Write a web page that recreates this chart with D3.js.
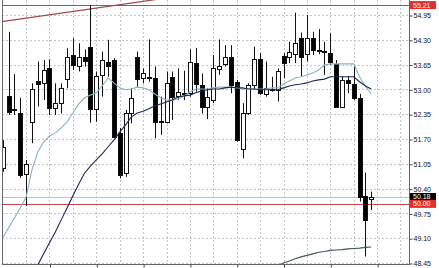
<!DOCTYPE html>
<html>
<head>
<meta charset="utf-8">
<script src="https://cdnjs.cloudflare.com/ajax/libs/d3/7.8.5/d3.min.js"></script>
<style>
  body { margin: 0; background: #fff; }
  svg { display: block; font-family: "Liberation Sans", Arial, sans-serif; }
</style>
</head>
<body>
<div id="chart"></div>
<script>
// candles (bar 0 = leftmost, partly cut)
const opens = [50.93, 52.84, 52.49, 52.38, 50.78, 52.15, 53.23, 53.16, 53.55, 52.51, 52.64, 53.27, 53.90, 53.62, 53.86, 54.12,
  52.48, 53.38, 53.71, 53.77, 51.86, 50.80, 52.37, 53.84, 53.29, 53.33, 53.29, 52.18, 52.15, 53.33, 52.84, 52.90,
  52.90, 53.70, 53.12, 52.55, 52.72, 53.53, 53.67, 53.86, 53.20, 51.43, 52.37, 53.12, 53.79, 52.88, 53.01, 52.99,
  53.88, 53.86, 53.93, 54.36, 53.93, 54.34, 54.03, 54.00, 53.96, 53.67, 52.55, 53.25, 53.14, 52.77, 50.21, 50.13]
const highs = [51.67, 54.51, 53.40, 52.78, 51.15, 53.16, 53.73, 53.77, 53.79, 53.16, 53.16, 54.08, 54.34, 54.21, 54.05, 55.21,
  53.47, 53.99, 54.30, 53.82, 51.99, 52.46, 53.03, 53.99, 53.55, 54.31, 53.60, 52.81, 53.47, 53.47, 53.55, 53.49,
  54.05, 54.08, 53.42, 53.03, 53.90, 54.31, 54.16, 54.16, 53.25, 52.64, 53.16, 54.12, 53.95, 53.73, 53.33, 53.55,
  53.95, 54.25, 55.01, 54.49, 54.95, 54.51, 54.58, 54.25, 54.47, 53.77, 53.35, 53.35, 53.64, 52.88, 50.82, 50.32]
const lows = [50.84, 52.33, 52.33, 50.68, 49.94, 51.59, 52.55, 52.72, 52.33, 52.33, 52.37, 53.03, 53.51, 53.47, 53.60, 52.13,
  52.15, 52.81, 53.33, 51.74, 50.67, 50.71, 52.11, 53.07, 53.16, 53.20, 51.72, 51.81, 52.11, 52.20, 52.72, 52.72,
  52.81, 52.94, 52.37, 52.22, 52.64, 53.38, 53.60, 52.90, 51.63, 51.19, 52.33, 52.99, 52.85, 52.81, 52.94, 52.68,
  53.29, 53.69, 53.69, 53.35, 53.73, 53.90, 53.92, 53.38, 53.64, 52.54, 52.53, 52.90, 52.72, 50.06, 48.62, 49.84]
const closes = [51.50, 52.42, 52.47, 50.76, 51.05, 53.00, 53.13, 53.51, 52.51, 52.64, 53.03, 53.86, 53.64, 53.84, 53.75, 52.48,
  53.35, 53.77, 53.61, 51.76, 50.76, 52.37, 52.77, 53.27, 53.44, 53.29, 52.15, 52.14, 53.16, 52.81, 52.93, 52.89,
  53.71, 53.14, 52.55, 52.81, 53.55, 53.61, 53.84, 53.12, 51.67, 52.37, 53.12, 53.79, 52.90, 53.03, 52.99, 53.47,
  53.70, 53.99, 54.22, 53.86, 54.36, 54.03, 54.02, 53.99, 53.73, 52.55, 53.25, 53.16, 52.77, 50.19, 49.58, 50.18]

// moving averages
const maFast = [49.11, 49.37, 49.63, 49.89, 50.18, 50.89, 51.36, 51.62, 51.78, 51.86, 51.99, 52.15, 52.38, 52.62, 52.78, 52.85,
  52.91, 53.09, 53.30, 53.17, 53.04, 52.99, 53.01, 53.06, 53.04, 52.99, 52.88, 52.78, 52.72, 52.72, 52.75, 52.83,
  52.93, 53.01, 53.01, 53.01, 53.04, 53.06, 53.06, 53.06, 53.04, 53.01, 53.01, 53.01, 53.01, 53.01, 53.04, 53.04,
  53.14, 53.22, 53.30, 53.33, 53.38, 53.43, 53.51, 53.64, 53.67, 53.67, 53.67, 53.67, 53.67, 53.33, 53.09, 52.88]
const maSlow = [null, null, null, null, null, 48.08, 48.40, 48.69, 48.98, 49.26, 49.58, 49.89, 50.21, 50.52, 50.81, 50.99,
  51.15, 51.31, 51.49, 51.67, 51.88, 52.07, 52.28, 52.38, 52.43, 52.49, 52.57, 52.62, 52.67, 52.72, 52.80, 52.83,
  52.85, 52.91, 52.96, 52.99, 53.01, 53.01, 53.04, 53.06, 53.04, 53.04, 53.01, 53.01, 52.99, 52.99, 52.99, 52.99,
  53.04, 53.09, 53.12, 53.14, 53.17, 53.22, 53.25, 53.27, 53.33, 53.33, 53.33, 53.33, 53.33, 53.20, 53.09, 53.01]
const maLong = [null, null, null, null, null, null, null, null, null, null, null, null, null, null, null, null,
  null, null, null, null, null, null, null, null, null, null, null, null, null, null, null, null,
  null, null, null, null, null, null, null, null, null, null, null, null, null, null, null, 48.39,
  48.45, 48.50, 48.56, 48.61, 48.65, 48.69, 48.73, 48.75, 48.78, 48.79, 48.80, 48.82, 48.83, 48.84, 48.86, 48.87]

const yTicks = [54.95, 54.30, 53.65, 53.00, 52.35, 51.70, 51.05, 50.40, 49.75, 49.10, 48.45]
const trendBars = [0, 25]
const trendPrices = [54.78, 55.33]
const resistance = 55.21
const support = 50.00
const bid = 50.18

const w = 439
const h = 268
const left = 2, right = 409, bottom = 264

const svg = d3.select('#chart')
  .append('svg')
  .attr('width', w)
  .attr('height', h)

const x = d3.scaleLinear().domain([0, 63]).range([2.7, 371.25])
const y = d3.scaleLinear().domain([48.45, 54.95]).range([263, 15])
const px = v => Math.round(x(v)) + 0.5
const py = v => Math.round(y(v)) + 0.5

svg.append('clipPath').attr('id', 'plot')
  .append('rect')
  .attr('x', left).attr('y', 0)
  .attr('width', right - left).attr('height', bottom)

// grid
svg.append('g')
  .selectAll('line')
  .data(d3.range(4, 69, 4))
  .enter().append('line')
  .attr('x1', d => px(d)).attr('x2', d => px(d))
  .attr('y1', 0).attr('y2', bottom)
  .attr('stroke', '#c4c4c4')
  .attr('stroke-dasharray', '2,2')

svg.append('g')
  .selectAll('line')
  .data(yTicks)
  .enter().append('line')
  .attr('x1', left).attr('x2', right)
  .attr('y1', d => py(d)).attr('y2', d => py(d))
  .attr('stroke', '#c4c4c4')
  .attr('stroke-dasharray', '2,2')

const plot = svg.append('g').attr('clip-path', 'url(#plot)')

// price levels
plot.append('line')
  .attr('x1', left).attr('x2', right)
  .attr('y1', py(bid)).attr('y2', py(bid))
  .attr('stroke', '#c0c0c0')

plot.selectAll('.level')
  .data([resistance, support])
  .enter().append('line')
  .attr('class', 'level')
  .attr('x1', left).attr('x2', right)
  .attr('y1', d => py(d)).attr('y2', d => py(d))
  .attr('stroke', '#c5454a')
  .attr('stroke-width', 1.2)

// trend line, extended past both points
const slope = (trendPrices[1] - trendPrices[0]) / (trendBars[1] - trendBars[0])
plot.append('line')
  .attr('x1', x(-2)).attr('y1', y(trendPrices[0] - 2 * slope))
  .attr('x2', x(40)).attr('y2', y(trendPrices[0] + 40 * slope))
  .attr('stroke', '#a3434b')
  .attr('stroke-width', 1.2)

// candles
const bars = d3.range(opens.length)
const g = plot.selectAll('.bar')
  .data(bars)
  .enter().append('g')
  .attr('class', 'bar')

g.append('line')
  .attr('x1', d => px(d)).attr('x2', d => px(d))
  .attr('y1', d => y(highs[d])).attr('y2', d => y(lows[d]))
  .attr('stroke', '#111')

g.append('rect')
  .attr('x', d => px(d) - 2)
  .attr('width', 4)
  .attr('y', d => py(Math.max(opens[d], closes[d])))
  .attr('height', d => Math.max(1, py(Math.min(opens[d], closes[d])) - py(Math.max(opens[d], closes[d]))))
  .attr('fill', d => closes[d] >= opens[d] ? '#fff' : '#000')
  .attr('stroke', '#111')

// moving averages
const line = d3.line()
  .defined(d => d[1] != null)
  .x(d => x(d[0]))
  .y(d => y(d[1]))

const mas = [[maFast, '#86b4bd'], [maSlow, '#1e2757'], [maLong, '#3f5a4c']]
mas.forEach(function(m){
  plot.append('path')
    .datum(bars.map(i => [i, m[0][i]]))
    .attr('d', line)
    .attr('fill', 'none')
    .attr('stroke', m[1])
    .attr('stroke-width', 1.1)
})

// frame
svg.append('line').attr('x1', left + 0.5).attr('x2', left + 0.5).attr('y1', 0).attr('y2', bottom).attr('stroke', '#666')
svg.append('line').attr('x1', right + 0.5).attr('x2', right + 0.5).attr('y1', 0).attr('y2', bottom + 1).attr('stroke', '#666')
svg.append('line').attr('x1', left).attr('x2', right + 1).attr('y1', bottom + 0.5).attr('y2', bottom + 0.5).attr('stroke', '#666')

// right axis
const yAxis = svg.append('g')
  .attr('transform', 'translate(' + (right + 0.5) + ',0.5)')
  .call(d3.axisRight(y).tickValues(yTicks).tickSize(3).tickPadding(1).tickFormat(d3.format('.2f')))
yAxis.select('.domain').remove()
yAxis.selectAll('line').attr('stroke', '#444')
yAxis.selectAll('text')
  .attr('font-size', '7px')
  .attr('font-family', '"Liberation Sans", Arial, sans-serif')
  .attr('fill', '#111')

// bottom ticks
const xAxis = svg.append('g')
  .attr('transform', 'translate(0.5,' + (bottom + 0.5) + ')')
  .call(d3.axisBottom(x).tickValues(d3.range(8, 65, 8)).tickSize(3).tickFormat(''))
xAxis.select('.domain').remove()
xAxis.selectAll('line').attr('stroke', '#444')

// price tags on the axis
const tags = [[resistance, '#e3302c'], [bid, '#000'], [support, '#e3302c']]
tags.forEach(function(t){
  svg.append('rect')
    .attr('x', right + 1)
    .attr('y', y(t[0]) - 4)
    .attr('width', 26)
    .attr('height', 8)
    .attr('fill', t[1])
  svg.append('text')
    .attr('x', right + 4)
    .attr('y', y(t[0]))
    .attr('dy', '0.35em')
    .attr('font-size', '7px')
    .attr('fill', '#fff')
    .text(d3.format('.2f')(t[0]))
})
</script>
</body>
</html>
